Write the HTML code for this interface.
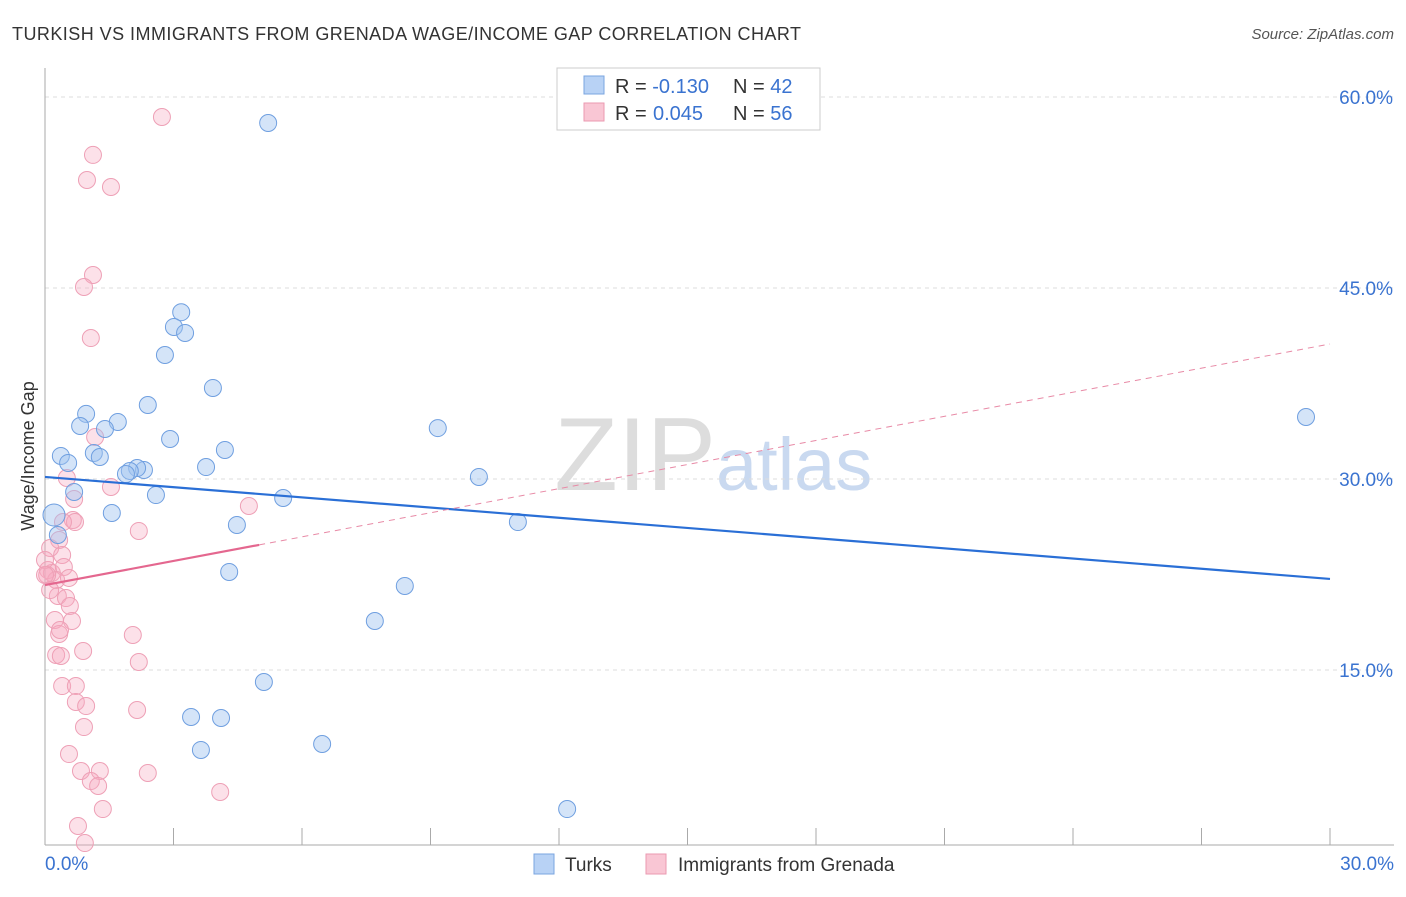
<!DOCTYPE html>
<html><head><meta charset="utf-8"><style>
body{margin:0;background:#fff;font-family:"Liberation Sans",sans-serif;}
svg text{font-family:"Liberation Sans",sans-serif;}
</style></head><body>
<svg id="c" width="1406" height="892">
<text x="12" y="40" font-size="18" fill="#333" textLength="789">TURKISH VS IMMIGRANTS FROM GRENADA WAGE/INCOME GAP CORRELATION CHART</text>
<text x="1394" y="39" font-size="15" fill="#555" text-anchor="end" font-style="italic">Source: ZipAtlas.com</text>
<text x="34" y="456" font-size="18" fill="#333" text-anchor="middle" transform="rotate(-90 34 456)">Wage/Income Gap</text>
<text x="716" y="490" font-size="104" fill="#ddd" text-anchor="end" font-family="Liberation Serif">ZIP</text>
<text x="716" y="490" font-size="74" fill="#c9d9f0">atlas</text>
<g id="grid"></g><g id="pts"></g><g id="lines"></g>
<g>
<rect x="557" y="68" width="263" height="62" fill="#fff" stroke="#ccc"/>
<rect x="584" y="76" width="20" height="18" fill="#b8d2f5" stroke="#7aa5e0"/>
<rect x="584" y="103" width="20" height="18" fill="#f9c6d4" stroke="#eb9ab1"/>
<text x="615" y="93" font-size="20" fill="#333">R = <tspan fill="#3a73d0">-0.130</tspan><tspan x="733">N = </tspan><tspan fill="#3a73d0">42</tspan></text>
<text x="615" y="120" font-size="20" fill="#333">R = <tspan x="653" fill="#3a73d0">0.045</tspan><tspan x="733">N = </tspan><tspan fill="#3a73d0">56</tspan></text>
</g>
<g>
<rect x="534" y="854" width="20" height="20" fill="#b8d2f5" stroke="#7aa5e0"/>
<text x="565" y="871" font-size="19" fill="#333">Turks</text>
<rect x="646" y="854" width="20" height="20" fill="#f9c6d4" stroke="#eb9ab1"/>
<text x="678" y="871" font-size="19" fill="#333">Immigrants from Grenada</text>
</g>
</svg>
<script>
const yTicks=[15,30,45,60];
const xTickLabels=["0.0%","30.0%"];
const turksX=[5.21,3.18,3.01,3.27,2.80,3.92,2.40,0.96,1.70,0.82,1.40,2.92,4.20,0.37,1.14,1.28,0.54,3.76,2.31,2.15,1.98,1.89,0.68,2.59,5.56,1.56,0.21,0.30,4.48,4.30,8.40,7.70,5.11,3.41,4.11,3.64,6.47,12.19,9.17,10.13,11.04,29.44];
const turksY=[57.96,43.1,41.94,41.47,39.74,37.15,35.81,35.11,34.48,34.16,33.93,33.14,32.28,31.81,32.04,31.73,31.26,30.94,30.71,30.86,30.63,30.39,28.98,28.74,28.51,27.33,27.17,25.6,26.39,22.7,21.6,18.85,14.06,11.31,11.23,8.72,9.19,4.08,34.0,30.16,26.62,34.87];
const grenX=[2.73,1.12,0.98,1.54,1.12,0.91,1.07,1.17,0.51,0.68,1.54,0.65,0.70,4.76,2.19,0.33,0.12,0.40,0.07,0.16,0.44,0.26,0.56,0.05,0.30,0.49,0.58,0.23,0.63,0.33,2.05,2.19,0.26,0.37,0.89,0.40,0.72,0.72,0.96,0.91,2.15,0.56,0.84,1.28,2.40,1.07,1.24,1.35,4.09,0.77,0.93,0.0,0.0,0.12,0.42,0.35];
const grenY=[58.43,55.45,53.48,52.93,46.02,45.08,41.07,33.3,30.08,28.43,29.37,26.78,26.62,27.88,25.92,25.21,24.58,24.03,22.85,22.62,23.09,22.07,22.23,22.46,20.81,20.65,20.03,18.93,18.85,17.83,17.75,15.63,16.18,16.1,16.49,13.74,13.74,12.49,12.17,10.52,11.86,8.4,7.07,7.07,6.91,6.28,5.89,4.08,5.42,2.75,1.41,23.64,22.46,21.28,26.62,18.14];
const turksTrend=[30.16,22.15];
const grenTrend=[21.67,40.6];
const NS="http://www.w3.org/2000/svg";
const X=v=>45+v/30*1285, Y=v=>861-v/15*191;
function mk(tag,attrs,parent){const e=document.createElementNS(NS,tag);for(const k in attrs)e.setAttribute(k,attrs[k]);document.getElementById(parent).appendChild(e);return e;}
yTicks.forEach(t=>{
 const l=mk('line',{x1:45,x2:1394,y1:Y(t),y2:Y(t),stroke:'#ddd','stroke-dasharray':'4,4'},'grid');
 
 
 const tx=mk('text',{x:1393,y:Y(t)+7,'font-size':19,fill:'#3a73d0','text-anchor':'end'},'grid');
 tx.textContent=t.toFixed(1)+'%';
 
 
});
const ax=mk('line',{x1:45,x2:45,y1:68,y2:845,stroke:'#aaa'},'grid');


const bx=mk('line',{x1:45,x2:1394,y1:845,y2:845,stroke:'#aaa'},'grid');


for(let i=1;i<=10;i++){const t=mk('line',{x1:45+i*128.5,x2:45+i*128.5,y1:828,y2:845,stroke:'#aaa'},'grid');
 
 }
[[0,45,'start'],[30,1394,'end']].forEach((d,i)=>{const t=mk('text',{x:d[1],y:870,'font-size':19,fill:'#3a73d0','text-anchor':d[2]},'grid');t.textContent=xTickLabels[i];
 
 });
grenX.forEach((x,i)=>{const c=mk('circle',{cx:X(x),cy:Y(grenY[i]),r:8.5,fill:'rgba(246,170,193,0.35)',stroke:'#eea0b6','stroke-width':1},'pts');
 
 });
turksX.forEach((x,i)=>{const c=mk('circle',{cx:X(x),cy:Y(turksY[i]),r:(i==26?11:8.5),fill:'rgba(160,195,240,0.45)',stroke:'#6f9fe0','stroke-width':1},'pts');
 
 });
const bl=mk('line',{x1:X(0),y1:Y(turksTrend[0]),x2:X(30),y2:Y(turksTrend[1]),stroke:'#2a6fd6','stroke-width':2.2},'lines');


const gy=x=>grenTrend[0]+(grenTrend[1]-grenTrend[0])*x/30;
const pd=mk('line',{x1:X(5),y1:Y(gy(5)),x2:X(30),y2:Y(gy(30)),stroke:'#e88aa6','stroke-width':1,'stroke-dasharray':'6,5'},'lines');


const ps=mk('line',{x1:X(0),y1:Y(gy(0)),x2:X(5),y2:Y(gy(5)),stroke:'#e4678f','stroke-width':2.2},'lines');


</script>
</body></html>
